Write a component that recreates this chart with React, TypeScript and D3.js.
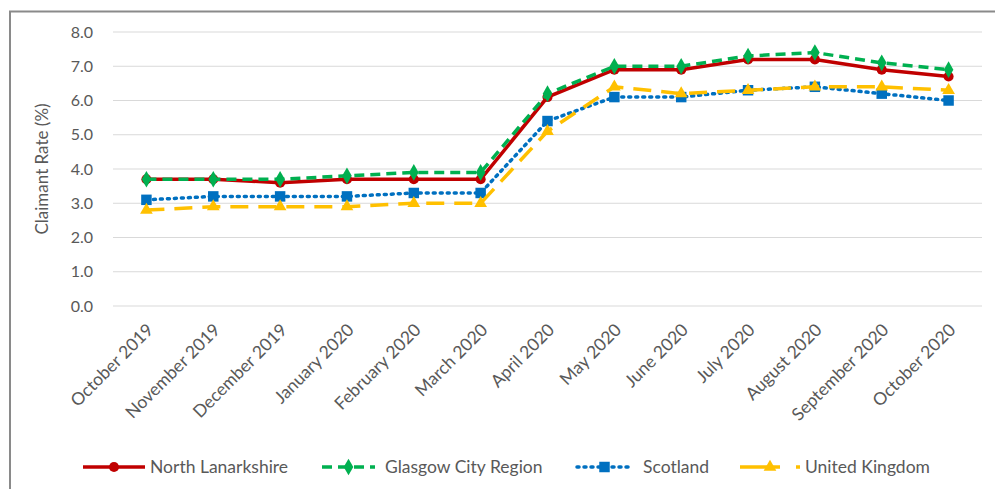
import React, { useEffect, useRef } from "react";
import * as d3 from "d3";

const months = [
  "October 2019", "November 2019", "December 2019", "January 2020", "February 2020",
  "March 2020", "April 2020", "May 2020", "June 2020", "July 2020",
  "August 2020", "September 2020", "October 2020",
];
const northLanarkshire = [3.7, 3.7, 3.6, 3.7, 3.7, 3.7, 6.1, 6.9, 6.9, 7.2, 7.2, 6.9, 6.7];
const glasgowCityRegion = [3.7, 3.7, 3.7, 3.8, 3.9, 3.9, 6.2, 7.0, 7.0, 7.3, 7.4, 7.1, 6.9];
const scotland = [3.1, 3.2, 3.2, 3.2, 3.3, 3.3, 5.4, 6.1, 6.1, 6.3, 6.4, 6.2, 6.0];
const unitedKingdom = [2.8, 2.9, 2.9, 2.9, 3.0, 3.0, 5.1, 6.4, 6.2, 6.3, 6.4, 6.4, 6.3];
const yTicks = [0, 1, 2, 3, 4, 5, 6, 7, 8];

const series = [
  { name: "North Lanarkshire", values: northLanarkshire, color: "#C00000", dash: null, symbol: d3.symbolCircle, size: 80 },
  { name: "Glasgow City Region", values: glasgowCityRegion, color: "#00B050", dash: "10,6", symbol: d3.symbolDiamond, size: 80 },
  { name: "Scotland", values: scotland, color: "#0070C0", dash: "2,5", symbol: d3.symbolSquare, size: 110 },
  { name: "United Kingdom", values: unitedKingdom, color: "#FFC000", dash: "18,10", symbol: d3.symbolTriangle, size: 70 },
];

export default function App() {
  const ref = useRef<SVGSVGElement>(null);

  useEffect(() => {
    const svg = d3.select(ref.current);
    svg.selectAll("*").remove();
    const font = "Lato, 'Open Sans', sans-serif";
    const grey = "#595959";

    // outer frame, only left and top edges are in view
    svg.append("path")
      .attr("d", "M10,489 L10,11.5 L995,11.5")
      .attr("fill", "none")
      .attr("stroke", "#8a8a8a")
      .attr("stroke-width", 2);

    const x = d3.scalePoint().domain(months).range([113, 982]).padding(0.5);
    const y = d3.scaleLinear().domain([0, 8]).range([306, 32]);

    const grid = svg.append("g");
    yTicks.forEach(t => {
      grid.append("line")
        .attr("x1", 113).attr("x2", 982)
        .attr("y1", y(t)).attr("y2", y(t))
        .attr("stroke", "#d9d9d9").attr("stroke-width", 1);
      grid.append("text")
        .attr("x", 93).attr("y", y(t)).attr("dy", "0.35em")
        .attr("text-anchor", "end")
        .attr("font-family", font).attr("font-size", 16).attr("fill", grey)
        .text(t.toFixed(1));
    });

    svg.append("text")
      .attr("transform", `translate(48,${(y(0) + y(8)) / 2}) rotate(-90)`)
      .attr("text-anchor", "middle")
      .attr("font-family", font).attr("font-size", 17).attr("fill", grey)
      .text("Claimant Rate (%)");

    months.forEach(m => {
      svg.append("text")
        .attr("transform", `translate(${x(m)! + 8},${331}) rotate(-45)`)
        .attr("text-anchor", "end")
        .attr("font-family", font).attr("font-size", 17.5).attr("fill", grey)
        .text(m);
    });

    const line = d3.line<number>()
      .x((_, i) => x(months[i])!)
      .y(d => y(d));

    series.forEach(s => {
      const g = svg.append("g");
      g.append("path")
        .datum(s.values)
        .attr("d", line)
        .attr("fill", "none")
        .attr("stroke", s.color)
        .attr("stroke-width", 3.5)
        .attr("stroke-dasharray", s.dash)
        .attr("stroke-linecap", s.dash === "2,5" ? "round" : "butt");
      g.selectAll("path.m")
        .data(s.values)
        .join("path")
        .attr("class", "m")
        .attr("transform", (d, i) => `translate(${x(months[i])},${y(d)})`)
        .attr("d", d3.symbol(s.symbol, s.size)())
        .attr("fill", s.color);
    });

    // legend: sample start, sample end, text start
    const legendPos = [[83, 145, 150], [322, 375, 385], [577, 632, 643], [740, 800, 805]];
    series.forEach((s, i) => {
      const [x0, x1, tx] = legendPos[i];
      const ly = 467;
      const g = svg.append("g");
      g.append("line")
        .attr("x1", x0).attr("x2", x1)
        .attr("y1", ly).attr("y2", ly)
        .attr("stroke", s.color).attr("stroke-width", 3.5)
        .attr("stroke-dasharray", s.dash === "18,10" ? "40,16" : s.dash)
        .attr("stroke-linecap", s.dash === "2,5" ? "round" : "butt");
      g.append("path")
        .attr("transform", `translate(${i === 3 ? 770 : (x0 + x1) / 2},${ly})`)
        .attr("d", d3.symbol(s.symbol, s.size)())
        .attr("fill", s.color);
      g.append("text")
        .attr("x", tx).attr("y", ly).attr("dy", "0.35em")
        .attr("font-family", font).attr("font-size", 17.5).attr("fill", grey)
        .text(s.name);
    });
  }, []);

  return (
    <svg
      ref={ref}
      width={995}
      height={489}
      style={{ position: "absolute", left: 0, top: 0, background: "#fff" }}
    />
  );
}
